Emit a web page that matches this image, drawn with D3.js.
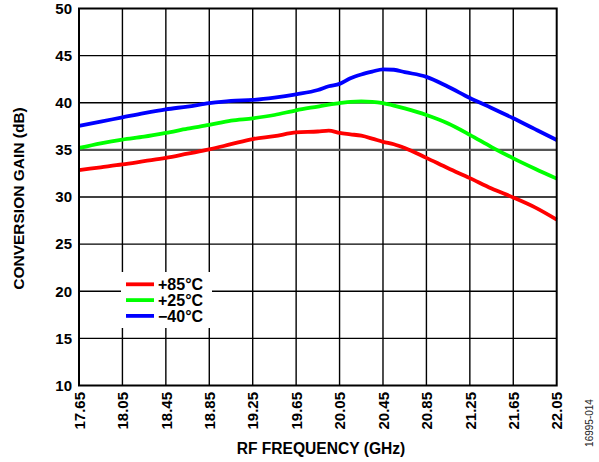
<!DOCTYPE html>
<html><head><meta charset="utf-8">
<script src="https://cdn.jsdelivr.net/npm/d3@7"></script>
<style>body{margin:0;background:#fff}svg{display:block}</style>
</head><body>
<svg id="c" width="599" height="462"></svg>
<script>
const freq = [17.65,17.85,18.05,18.25,18.45,18.65,18.85,19.05,19.25,19.45,19.65,19.85,19.95,20.05,20.15,20.25,20.35,20.45,20.55,20.65,20.85,21.05,21.25,21.45,21.65,21.85,22.05];
const gain85 = [32.85,33.15,33.45,33.8,34.15,34.6,35.05,35.6,36.15,36.45,36.85,36.95,37.05,36.8,36.65,36.5,36.2,35.85,35.6,35.2,34.15,33.05,32.0,30.9,29.95,28.9,27.6];
const gain25 = [35.2,35.7,36.1,36.4,36.8,37.25,37.65,38.1,38.35,38.7,39.2,39.6,39.8,39.95,40.1,40.15,40.1,39.95,39.7,39.4,38.7,37.8,36.6,35.3,34.1,33.0,31.95];
const gainM40 = [37.55,38.0,38.45,38.9,39.3,39.6,39.95,40.2,40.3,40.55,40.9,41.35,41.75,42.0,42.6,43.0,43.3,43.55,43.5,43.25,42.75,41.7,40.5,39.45,38.35,37.2,36.05];
const xTicks = [17.65,18.05,18.45,18.85,19.25,19.65,20.05,20.45,20.85,21.25,21.65,22.05];
const yTicks = [10,15,20,25,30,35,40,45,50];
const seriesNames = ["+85°C","+25°C","\u221240°C"];
const seriesColors = ["#ff0000","#00ff00","#0000ff"];

const m = {l:79, t:8.5, r:42.3, b:76.5};
const W = 599, H = 462;
const svg = d3.select("#c");
const x = d3.scaleLinear().domain([17.65,22.05]).range([m.l, W-m.r]);
const y = d3.scaleLinear().domain([10,50]).range([H-m.b, m.t]);
const font = "'Liberation Sans', Arial, sans-serif";

// gridlines
svg.append("g").selectAll("line").data(xTicks.slice(1,-1)).join("line")
  .attr("x1",d=>x(d)).attr("x2",d=>x(d)).attr("y1",y(10)).attr("y2",y(50))
  .attr("stroke","#000").attr("stroke-width",1.4);
svg.append("g").selectAll("line").data(yTicks.slice(1,-1)).join("line")
  .attr("x1",x(17.65)).attr("x2",x(22.05)).attr("y1",d=>y(d)).attr("y2",d=>y(d))
  .attr("stroke",d=>d===35?"#555":"#000").attr("stroke-width",d=>d===35?2.2:1.4);

// axes (labels only)
const yAxis = d3.axisLeft(y).tickValues(yTicks).tickSize(0).tickPadding(7).tickFormat(d3.format("d"));
const gy = svg.append("g").attr("transform",`translate(${m.l},0)`).call(yAxis);
gy.select(".domain").remove();
gy.selectAll("text").attr("font-family",font).attr("font-weight","bold").attr("font-size",15).attr("fill","#000");

const xAxis = d3.axisBottom(x).tickValues(xTicks).tickSize(0).tickPadding(0).tickFormat(d3.format(".2f"));
const gx = svg.append("g").attr("transform",`translate(0,${H-m.b})`).call(xAxis);
gx.select(".domain").remove();
gx.selectAll("text").attr("font-family",font).attr("font-weight","bold").attr("font-size",15).attr("fill","#000")
  .attr("transform","rotate(-90)").attr("text-anchor","end").attr("dy","0.35em").attr("x",-6.5).attr("y",0);

// lines
const line = d3.line().x((d,i)=>x(freq[i])).y(d=>y(d)).curve(d3.curveMonotoneX);
[gain85,gain25,gainM40].forEach((s,i)=>{
  svg.append("path").datum(s).attr("d",line).attr("fill","none")
    .attr("stroke",seriesColors[i]).attr("stroke-width",3.8).attr("stroke-linejoin","round");
});

// legend
const lg = svg.append("g");
lg.append("rect").attr("x",121).attr("y",272).attr("width",91).attr("height",56).attr("fill","#fff");
seriesNames.forEach((n,i)=>{
  const yy = 284.3 + i*15.8;
  lg.append("line").attr("x1",126).attr("x2",154).attr("y1",yy).attr("y2",yy)
    .attr("stroke",seriesColors[i]).attr("stroke-width",3.8);
  lg.append("text").attr("x",158).attr("y",yy).attr("dy","0.36em").text(n)
    .attr("font-family",font).attr("font-weight","bold").attr("font-size",16).attr("fill","#000");
});

// frame
svg.append("rect").attr("x",m.l).attr("y",m.t).attr("width",W-m.l-m.r).attr("height",H-m.t-m.b)
  .attr("fill","none").attr("stroke","#000").attr("stroke-width",2);

// titles
svg.append("text").attr("x",321).attr("y",454).attr("text-anchor","middle").text("RF FREQUENCY (GHz)")
  .attr("font-family",font).attr("font-weight","bold").attr("font-size",15.6);
svg.append("text").attr("transform",`translate(23.5,198.5) rotate(-90)`).attr("text-anchor","middle").text("CONVERSION GAIN (dB)")
  .attr("font-family",font).attr("font-weight","bold").attr("font-size",15.5);
svg.append("text").attr("transform","translate(593,423) rotate(-90)").attr("text-anchor","middle").text("16995-014")
  .attr("font-family",font).attr("font-size",10).attr("fill","#222");
</script>
</body></html>
